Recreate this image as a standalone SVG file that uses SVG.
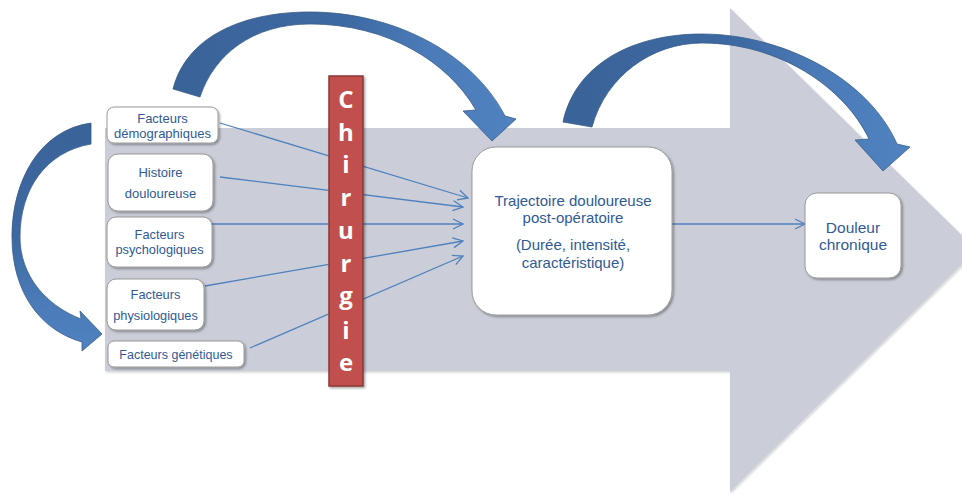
<svg xmlns="http://www.w3.org/2000/svg" width="962" height="494" viewBox="0 0 962 494">
  <defs>
    <style>
      .box { fill: #ffffff; stroke: #9a9a9a; stroke-width: 1; filter: url(#shadow); }
      .lbl { font-family: "Liberation Sans", Arial, sans-serif; fill: #2F5A96; text-anchor: middle; }
      .conn { stroke: #4F81BD; stroke-width: 1.3; fill: none; marker-end: url(#open); }
      .bend { stroke: #385D8A; stroke-width: 0.8; }
      .cut { font-family: "Open Sans", "Liberation Sans", sans-serif; font-weight: bold; font-size: 24px; fill: #ffffff; text-anchor: middle; }
    </style>
    <filter id="shadow" x="-10%" y="-10%" width="130%" height="130%">
      <feDropShadow dx="1.5" dy="1.5" stdDeviation="1.2" flood-color="#000000" flood-opacity="0.35"/>
    </filter>
    <filter id="soft" x="-5%" y="-5%" width="110%" height="110%">
      <feDropShadow dx="1" dy="1.5" stdDeviation="1" flood-color="#000000" flood-opacity="0.18"/>
    </filter>
    <marker id="open" viewBox="0 0 12 12" refX="11" refY="6" markerWidth="12" markerHeight="12" markerUnits="userSpaceOnUse" orient="auto">
      <path d="M1,1 L11,6 L1,11" fill="none" stroke="#4F81BD" stroke-width="1.3"/>
    </marker>
    <linearGradient id="bendH" x1="0" y1="0" x2="1" y2="0">
      <stop offset="0" stop-color="#3A6398"/>
      <stop offset="0.5" stop-color="#3D69A2"/>
      <stop offset="0.75" stop-color="#4B7CB9"/>
      <stop offset="1" stop-color="#4F82BF"/>
    </linearGradient>
    <linearGradient id="bendV" x1="0" y1="0" x2="0" y2="1">
      <stop offset="0" stop-color="#3A6398"/>
      <stop offset="0.5" stop-color="#3D69A2"/>
      <stop offset="0.8" stop-color="#4B7CB9"/>
      <stop offset="1" stop-color="#4F82BF"/>
    </linearGradient>
  </defs>

  <rect width="962" height="494" fill="#ffffff"/>

  <!-- broad grey timeline arrow -->
  <g id="timeline">
    <polygon points="105,128 730,128 730,8 977,250 730,492 730,371 105,371" fill="#CBCED8" filter="url(#soft)"/>
  </g>

  <!-- curved blue arrows -->
  <g id="bend-top-left">
    <path class="bend" fill="url(#bendH)" d="M173,89 C186,38 240,12 310,12 C392,12 472,52 505,116 L516,119 L492,141 L463,111 L476,110 C448,62 388,24 310,24 C252,24 214,55 200,97 Z"/>
  </g>
  <g id="bend-top-right">
    <path class="bend" fill="url(#bendH)" d="M563,122 C575,66 630,34 702,34 C782,34 868,78 897,144 L910,147 L883,171 L855,140 L869,139 C845,88 780,43 702,43 C652,43 606,76 592,127 Z"/>
  </g>
  <g id="bend-left">
    <path class="bend" fill="url(#bendV)" d="M91,123 C40,130 12,180 12,237 C12,292 40,330 82,342 L82,351 L102,334 L80,311 L81,319 C45,305 20,275 20,237 C20,190 45,152 91,144 Z"/>
  </g>

  <!-- connectors -->
  <g id="connectors">
    <line class="conn" x1="220" y1="123" x2="468" y2="198"/>
    <line class="conn" x1="220" y1="177" x2="463" y2="207"/>
    <line class="conn" x1="212" y1="224" x2="463" y2="224"/>
    <line class="conn" x1="205" y1="286" x2="463" y2="241"/>
    <line class="conn" x1="250" y1="348" x2="463" y2="256"/>
    <line class="conn" x1="672" y1="224" x2="805" y2="224"/>
  </g>

  <!-- surgery bar -->
  <g id="chirurgie">
    <rect x="329" y="76" width="34" height="310" fill="#C0504D" stroke="#8C3836" stroke-width="1.5" filter="url(#shadow)"/>
    <text class="cut" x="346" y="108">C</text>
    <text class="cut" x="346" y="141">h</text>
    <text class="cut" x="346" y="173">i</text>
    <text class="cut" x="346" y="206">r</text>
    <text class="cut" x="346" y="239">u</text>
    <text class="cut" x="346" y="272">r</text>
    <text class="cut" x="346" y="304">g</text>
    <text class="cut" x="346" y="339">i</text>
    <text class="cut" x="346" y="371">e</text>
  </g>

  <!-- factor boxes -->
  <g id="demographiques">
    <rect class="box" x="107" y="107" width="111" height="36" rx="7"/>
    <text class="lbl" x="162.5" y="122.5" font-size="13">Facteurs</text>
    <text class="lbl" x="162.5" y="137.5" font-size="13">démographiques</text>
  </g>
  <g id="histoire">
    <rect class="box" x="108" y="154" width="105" height="57" rx="10"/>
    <text class="lbl" x="160.5" y="176.5" font-size="13">Histoire</text>
    <text class="lbl" x="160.5" y="197.5" font-size="13">douloureuse</text>
  </g>
  <g id="psychologiques">
    <rect class="box" x="107" y="217" width="105" height="50" rx="9"/>
    <text class="lbl" x="159.5" y="238.5" font-size="12.8">Facteurs</text>
    <text class="lbl" x="159.5" y="253.5" font-size="12.8">psychologiques</text>
  </g>
  <g id="physiologiques">
    <rect class="box" x="107" y="279" width="97" height="51" rx="9"/>
    <text class="lbl" x="155.5" y="298.5" font-size="12.8">Facteurs</text>
    <text class="lbl" x="155.5" y="319.5" font-size="12.8">physiologiques</text>
  </g>
  <g id="genetiques">
    <rect class="box" x="108" y="341" width="136" height="26" rx="6"/>
    <text class="lbl" x="176" y="358.5" font-size="12.5">Facteurs génétiques</text>
  </g>

  <!-- outcome boxes -->
  <g id="trajectoire">
    <rect class="box" x="472" y="147" width="200" height="168" rx="24"/>
    <text class="lbl" x="573" y="206" font-size="15">Trajectoire douloureuse</text>
    <text class="lbl" x="573" y="223" font-size="15">post-opératoire</text>
    <text class="lbl" x="573" y="250" font-size="15">(Durée, intensité,</text>
    <text class="lbl" x="573" y="268" font-size="15">caractéristique)</text>
  </g>
  <g id="chronique">
    <rect class="box" x="805" y="193" width="96" height="85" rx="12"/>
    <text class="lbl" x="853" y="232.5" font-size="15.5">Douleur</text>
    <text class="lbl" x="853" y="249.5" font-size="15.5">chronique</text>
  </g>
</svg>
